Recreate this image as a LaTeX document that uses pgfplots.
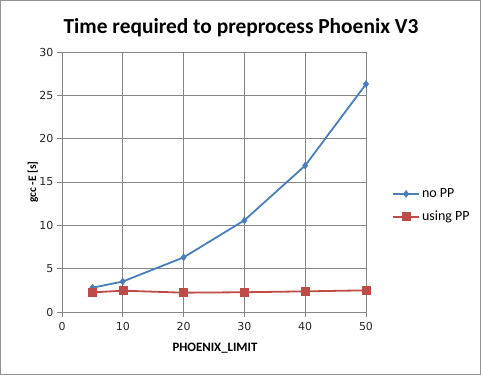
\documentclass[border=0pt]{standalone}
\usepackage{fontspec}
\setmainfont{Carlito}
\newfontfamily\tickfont{DejaVu Sans}
\usepackage{pgfplots}
\pgfplotsset{compat=1.18}
\definecolor{bl}{HTML}{4A7EBB}
\definecolor{rd}{HTML}{BE4B48}
\definecolor{gr}{HTML}{868686}
\begin{document}
\begin{tikzpicture}[x=1pt,y=1pt]
\useasboundingbox (0,0) rectangle (481,375);
\draw[gr!90, line width=1.2pt] (0.6,0.6) rectangle (480.4,374.4);
\begin{axis}[
  at={(62pt,63pt)}, anchor=south west,
  scale only axis, width=304pt, height=260pt,
  xmin=0, xmax=50, ymin=0, ymax=30,
  xtick={0,10,...,50}, ytick={0,5,...,30},
  xtick pos=bottom, ytick pos=left,
  grid=major, grid style={gr, line width=0.9pt},
  axis line style={gr, line width=0.9pt},
  tick style={gr, line width=0.9pt},
  tick align=outside, major tick length=5pt,
  ticklabel style={font=\tickfont\fontsize{11}{13}\selectfont, text=black!85},
  /pgf/number format/assume math mode=true,
  xticklabel style={yshift=-2pt},
  legend style={at={(392pt-62pt,169.5pt-63pt)}, anchor=west, draw=none, fill=none,
    inner sep=0pt, row sep=8pt, font=\fontsize{14}{16}\selectfont,
    legend cell align=left},
  legend image code/.code={\draw[mark repeat=2,mark phase=2] plot coordinates {(0pt,0pt) (13pt,0pt) (26pt,0pt)};},
]
\addplot[bl, line width=1.8pt, mark=diamond*, mark size=3.5pt, mark options={fill=bl, draw=bl, line width=0.5pt}]
  coordinates {(5,2.8) (10,3.52) (20,6.3) (30,10.58) (40,16.9) (50,26.3)};
\addlegendentry{no PP}
\addplot[rd, line width=1.8pt, mark=square*, mark size=4pt, mark options={fill=rd, draw=rd, line width=0.5pt}]
  coordinates {(5,2.26) (10,2.46) (20,2.23) (30,2.28) (40,2.38) (50,2.5)};
\addlegendentry{using PP}
\end{axis}
\node[font=\bfseries\fontsize{21.4}{24}\selectfont] at (241,347) {Time required to preprocess Phoenix V3};
\node[font=\bfseries\fontsize{12.8}{15}\selectfont] at (215,27) {PHOENIX\_LIMIT};
\node[font=\bfseries\fontsize{11.5}{13}\selectfont, rotate=90] at (33,193) {gcc -E [s]};
\end{tikzpicture}
\end{document}
